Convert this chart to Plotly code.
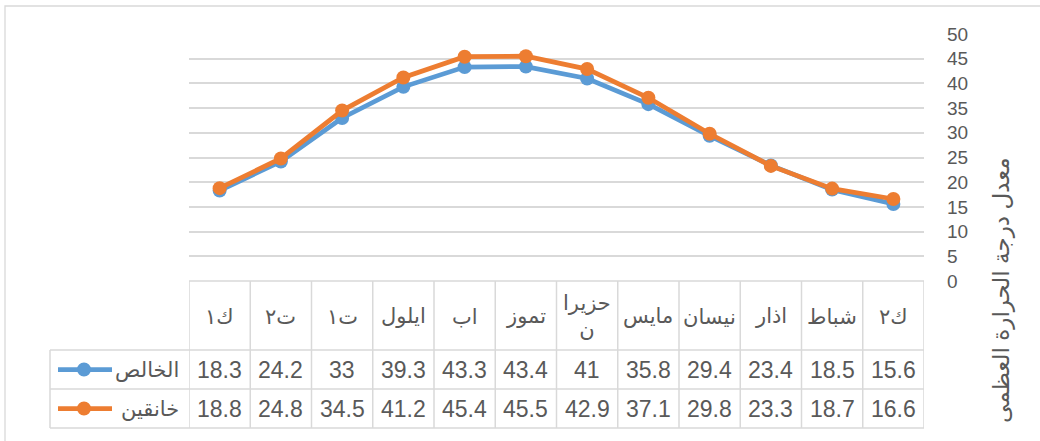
import plotly.graph_objects as go

# Data (chronological order, Jan..Dec); x axis is reversed (right-to-left)
months = ["ك٢", "شباط", "اذار", "نيسان", "مايس", "حزيران",
          "تموز", "اب", "ايلول", "ت١", "ت٢", "ك١"]
khalis = [15.6, 18.5, 23.4, 29.4, 35.8, 41, 43.4, 43.3, 39.3, 33, 24.2, 18.3]
khanaqin = [16.6, 18.7, 23.3, 29.8, 37.1, 42.9, 45.5, 45.4, 41.2, 34.5, 24.8, 18.8]
series_names = ["الخالص", "خانقين"]
y_title = "معدل درجة الحرارة العظمى"
y_ticks = [0, 5, 10, 15, 20, 25, 30, 35, 40, 45, 50]

W, H = 1040, 441
BLUE = "#5B9BD5"
ORANGE = "#ED7D31"
GRID = "#D9D9D9"
TXT = "#595959"
FONT = "Liberation Sans, DejaVu Sans, sans-serif"

def px(x):
    return x / W

def py(y):
    return 1 - y / H

x_left, x_right = 189, 924
y_top_plot, y_zero = 34, 281
row_lines = [281, 350, 389, 428]

fig = go.Figure()
for name, vals, col in [(series_names[0], khalis, BLUE), (series_names[1], khanaqin, ORANGE)]:
    fig.add_trace(go.Scatter(
        x=months, y=vals, name=name, mode="lines+markers",
        line=dict(color=col, width=4.75),
        marker=dict(color=col, size=14),
        showlegend=False, cliponaxis=False,
    ))

shapes = []
annotations = []

# outer chart border
shapes.append(dict(type="rect", xref="paper", yref="paper",
                   x0=px(5), x1=px(1100), y0=py(500), y1=py(6),
                   line=dict(color=GRID, width=1.3)))

# table horizontal lines
for i, yy in enumerate(row_lines):
    x0 = x_left if i == 0 else 50
    shapes.append(dict(type="line", xref="paper", yref="paper",
                       x0=px(x0), x1=px(x_right), y0=py(yy), y1=py(yy),
                       line=dict(color=GRID, width=1.5)))
# legend cell left border
shapes.append(dict(type="line", xref="paper", yref="paper",
                   x0=px(50), x1=px(50), y0=py(350), y1=py(428),
                   line=dict(color=GRID, width=1.5)))
# table vertical lines (column boundaries via x axis)
for i in range(len(months) + 1):
    shapes.append(dict(type="line", xref="x", yref="paper",
                       x0=i - 0.5, x1=i - 0.5, y0=py(428), y1=py(281),
                       line=dict(color=GRID, width=1.5)))

# header labels
for m in months:
    label = m if len(m) <= 5 else m[:5] + "<br>" + m[5:]
    annotations.append(dict(xref="x", yref="paper", x=m, y=py(316),
                            xanchor="center", yanchor="middle",
                            text=label, showarrow=False,
                            font=dict(size=21, color=TXT, family=FONT)))
# values
for vals, yc in [(khalis, 369.5), (khanaqin, 408.5)]:
    for m, v in zip(months, vals):
        annotations.append(dict(xref="x", yref="paper", x=m, y=py(yc),
                                xanchor="center", yanchor="middle",
                                text=f"{v:g}", showarrow=False,
                                font=dict(size=23, color=TXT, family=FONT)))

# legend keys inside table
for name, col, yc in [(series_names[0], BLUE, 369.5), (series_names[1], ORANGE, 408.5)]:
    shapes.append(dict(type="line", xref="paper", yref="paper",
                       x0=px(58), x1=px(112), y0=py(yc), y1=py(yc),
                       line=dict(color=col, width=4.75)))
    shapes.append(dict(type="circle", xref="paper", yref="paper",
                       x0=px(77), x1=px(91), y0=py(yc + 7), y1=py(yc - 7),
                       fillcolor=col, line=dict(color=col, width=0)))
    annotations.append(dict(xref="paper", yref="paper", x=px(181), y=py(yc),
                            xanchor="right", yanchor="middle",
                            text=name, showarrow=False,
                            font=dict(size=21, color=TXT, family=FONT)))

# y axis title
annotations.append(dict(xref="paper", yref="paper", x=px(1001), y=py(290),
                        xanchor="center", yanchor="middle",
                        text=y_title, textangle=-90, showarrow=False,
                        font=dict(size=23, color=TXT, family=FONT)))

fig.update_layout(
    width=W, height=H,
    margin=dict(l=0, r=0, t=0, b=0, pad=0),
    paper_bgcolor="white", plot_bgcolor="white",
    shapes=shapes, annotations=annotations,
    xaxis=dict(domain=[px(x_left), px(x_right)], autorange=False,
               range=[len(months) - 0.5, -0.5],
               showgrid=False, showticklabels=False,
               showline=False, zeroline=False, type="category"),
    yaxis=dict(domain=[py(y_zero), py(y_top_plot)], range=[0, 50],
               autorange=False,
               side="right", tickvals=y_ticks, showgrid=True,
               gridcolor=GRID, gridwidth=1.5, zeroline=False,
               showline=False, ticks="", ticklabelstandoff=22,
               automargin=False,
               tickfont=dict(size=19, color=TXT, family=FONT)),
    font=dict(family=FONT, color=TXT),
)

fig.write_html("out.html", config={"displayModeBar": False},
               post_script="document.body.style.margin='0';document.body.style.overflow='hidden';")
